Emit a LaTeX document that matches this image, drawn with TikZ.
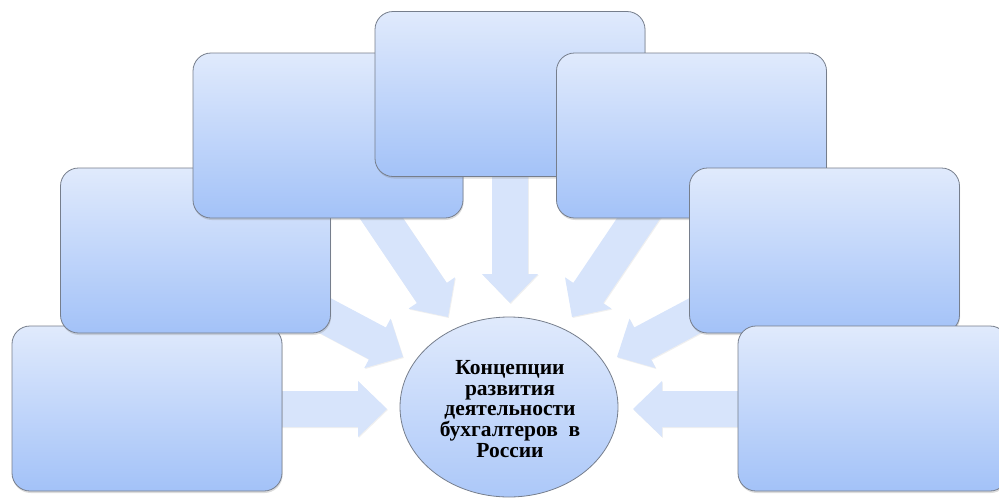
\documentclass[tikz,border=0pt]{standalone}
\usepackage{fontspec}
\newfontfamily\tnr{Liberation Serif}
\usetikzlibrary{shapes.geometric,shadows}
\definecolor{boxtop}{HTML}{E0EAFC}
\definecolor{boxbot}{HTML}{A3C2F8}
\definecolor{boxline}{HTML}{767E8C}
\definecolor{arrowfill}{HTML}{D7E4FB}
\tikzset{
  box/.style={draw=boxline, line width=0.8pt, rounded corners=18pt,
    minimum width=270pt, minimum height=165pt, inner sep=0pt,
    top color=boxtop, bottom color=boxbot,
    drop shadow={shadow xshift=0.6pt, shadow yshift=-2pt, opacity=0.28}},
  hub/.style={ellipse, draw=boxline, line width=0.8pt,
    minimum width=218pt, minimum height=180pt, inner sep=0pt,
    top color=boxtop, bottom color=boxbot!85!boxtop, align=center,
    font=\tnr\bfseries\fontsize{21.5}{20.8}\selectfont},
  arrowbody/.style={fill=arrowfill, draw=none,
    drop shadow={shadow xshift=0.8pt, shadow yshift=-1pt, opacity=0.12}},
}
\newcommand{\blockarr}[2]{%
  \begin{scope}[shift={(#1)}, rotate=#2]
    \fill[arrowbody] (0,0) -- (-29,28) -- (-29,18) -- (-150,18)
      -- (-150,-18) -- (-29,-18) -- (-29,-28) -- cycle;
  \end{scope}}
\begin{document}
\begin{tikzpicture}[x=1pt,y=-1pt]
  \useasboundingbox (0,0) rectangle (999,501);
  \clip (0,0) rectangle (999,501);
  % arrow tips
  \coordinate (tA) at (387,409);
  \coordinate (tB) at (403,357);
  \coordinate (tC) at (448,317);
  \coordinate (tD) at (510,303);
  \coordinate (tE) at (572,317);
  \coordinate (tF) at (617,357);
  \coordinate (tG) at (633,409);
  % block arrows (behind the boxes)
  \blockarr{tA}{0}
  \blockarr{tB}{-28}
  \blockarr{tC}{-56}
  \blockarr{tD}{-90}
  \blockarr{tE}{-124}
  \blockarr{tF}{-152}
  \blockarr{tG}{180}
  % boxes
  \node[box] (A) at (147,408.5) {};
  \node[box] (B) at (195.5,250.5) {};
  \node[box] (C) at (328,135.5) {};
  \node[box] (D) at (510,94) {};
  \node[box] (E) at (691.5,135.5) {};
  \node[box] (F) at (824.5,250.5) {};
  \node[box] (G) at (873,408.5) {};
  % centre
  \node[hub] (hub) at (509,407) {};
  \node[align=center, font=\tnr\bfseries\fontsize{21.5}{20.8}\selectfont, inner sep=0pt]
    (label) at (510,409) {Концепции\\развития\\деятельности\\бухгалтеров\ \ в\\России};
\end{tikzpicture}
\end{document}
